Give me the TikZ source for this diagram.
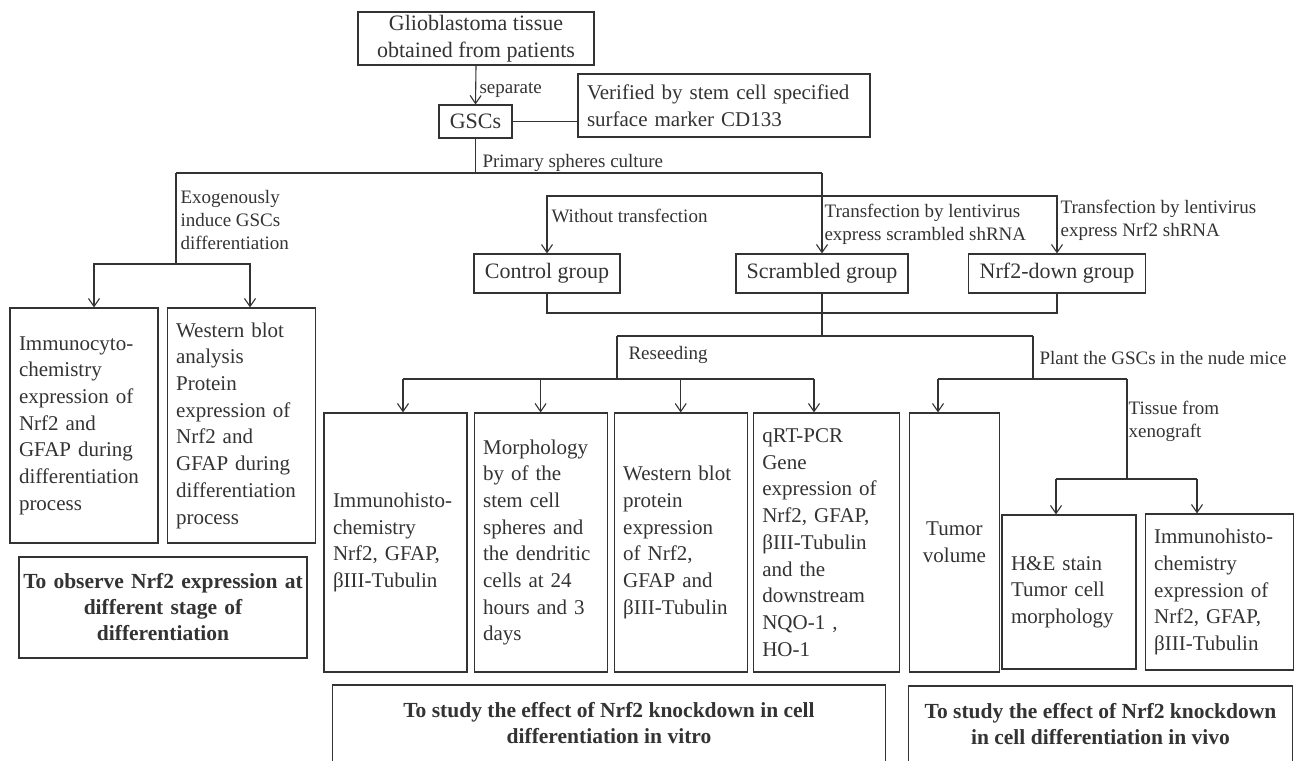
\documentclass[tikz,border=0pt]{standalone}
\usepackage{fontspec}
\setmainfont{Liberation Serif}
\usetikzlibrary{positioning}
\usetikzlibrary{arrows.meta}

\begin{document}
\begin{tikzpicture}[x=1pt,y=-1pt,line width=1.1pt,color=black!80,
	>={Straight Barb[length=8pt,width=11pt]},
	box/.style={draw,inner xsep=9pt,inner ysep=0pt,align=left,font=\fontsize{21}{26.7}\selectfont},
	grp/.style={draw,inner sep=0pt,align=center,font=\fontsize{22}{27}\selectfont},
	lab/.style={anchor=west,align=left,inner sep=1pt,font=\fontsize{19}{23}\selectfont},
	sum/.style={align=center,inner sep=0pt,font=\fontsize{21.5}{26}\selectfont\bfseries}]
		\useasboundingbox (0,0) rectangle (1300,760);
		\node (gbm) [grp,minimum width=236pt,minimum height=53pt] at (476,38.5) {Glioblastoma tissue\\obtained from patients};
		\node (gsc) [grp,minimum width=73pt,minimum height=33pt] at (475.5,121.5) {GSCs};
		\node (cd) [box,inner xsep=9pt,text width=274pt,minimum height=63pt] at (724,105.5) {Verified by stem cell specified\\surface marker CD133};
		\node (ctl) [grp,minimum width=146pt,minimum height=39pt] at (547,273.5) {Control group};
		\node (scr) [grp,minimum width=172pt,minimum height=39pt] at (822,273.5) {Scrambled group};
		\node (nrd) [grp,minimum width=177pt,minimum height=39pt] at (1057,273.5) {Nrf2-down group};
		\node (b1) [box,text width=130pt,minimum height=235pt] at (84,425.5) {Immunocyto-\\chemistry\\expression of\\Nrf2 and\\GFAP during\\differentiation\\process};
		\node (b2) [box,text width=130pt,minimum height=235pt,right=8pt of b1] {Western blot\\analysis\\Protein\\expression of\\Nrf2 and\\GFAP during\\differentiation\\process};
		\node (obs) [box,sum,text width=288pt,minimum height=101pt] at (163,607.5) {To observe Nrf2 expression at\\different stage of\\differentiation};
		\node (r1) [box,text width=125pt,minimum height=259pt] at (395.5,542.5) {Immunohisto-\\chemistry\\Nrf2, GFAP,\\βIII-Tubulin};
		\node (r2) [box,text width=115pt,minimum height=259pt,right=6pt of r1] {Morphology\\by of the\\stem cell\\spheres and\\the dendritic\\cells at 24\\hours and 3\\days};
		\node (r3) [box,text width=115pt,minimum height=259pt,right=6pt of r2] {Western blot\\protein\\expression\\of Nrf2,\\GFAP and\\βIII-Tubulin};
		\node (r4) [box,text width=128pt,minimum height=259pt,right=5pt of r3] {qRT-PCR\\Gene\\expression of\\Nrf2, GFAP,\\βIII-Tubulin\\and the\\downstream\\NQO-1 ,\\HO-1};
		\node (r5) [box,align=center,text width=72pt,minimum height=259pt,right=9pt of r4] {Tumor\\volume};
		\node (he) [box,text width=116pt,minimum height=154pt] at (1069,592) {H\&E stain\\Tumor cell\\morphology};
		\node (ih) [box,text width=130pt,minimum height=156pt,right=8pt of he] {Immunohisto-\\chemistry\\expression of\\Nrf2, GFAP,\\βIII-Tubulin};
		\node (vit) [sum,minimum width=552pt,minimum height=75pt,anchor=north] at (609,685) {To study the effect of Nrf2 knockdown in cell\\differentiation in vitro};
		\node (viv) [sum,minimum width=383pt,minimum height=74pt,anchor=north] at (1100.5,686) {To study the effect of Nrf2 knockdown\\in cell differentiation in vivo};
		\draw (vit.south west) |- (vit.north east) -- (vit.south east);
		\draw (viv.south west) |- (viv.north east) -- (viv.south east);
		\node (sep) [lab] at (478,90) {separate};
		\node (psc) [lab] at (481,163) {Primary spheres culture};
		\node (exo) [lab] at (179,220) {Exogenously\\induce GSCs\\differentiation};
		\node (wot) [lab] at (550,216) {Without transfection};
		\node (tsc) [lab] at (823,224.5) {Transfection by lentivirus\\express scrambled shRNA};
		\node (tnr) [lab] at (1059,220.5) {Transfection by lentivirus\\express Nrf2 shRNA};
		\node (res) [lab] at (627,355) {Reseeding};
		\node (pla) [lab] at (1038,358) {Plant the GSCs in the nude mice};
		\node (tis) [lab] at (1127,421) {Tissue from\\xenograft};
		\coordinate (c0) at (176,173);
		\coordinate (c2) at (822,173);
		\coordinate (c3) at (176,264);
		\coordinate (c4) at (94,264);
		\coordinate (c5) at (250,264);
		\coordinate (g) at (822,196);
		\coordinate (k) at (822,313);
		\coordinate (m1) at (617,336);
		\coordinate (m2) at (1033,336);
		\coordinate (n1) at (617,379);
		\coordinate (n2) at (1033,379);
		\coordinate (a1) at (403,379);
		\coordinate (a4) at (814,379);
		\coordinate (t1) at (938,379);
		\coordinate (t2) at (1127,379);
		\coordinate (t3) at (1127,479);
		\coordinate (h1) at (1056,479);
		\coordinate (h2) at (1197,479);
		\draw[->] (gbm.south) -- (gsc.north);
		\draw (gsc.east) -- (gsc.east -| cd.west);
		\draw (gsc.south) -- (gsc.south |- c0);
		\draw (c0) -- (c2);
		\draw[->] (c2) -- (scr.north);
		\draw (c0) -- (c3);
		\draw[->] (c3) -| (c4 |- b1.north);
		\draw[->] (c3) -| (c5 |- b2.north);
		\draw[->] (g) -| (ctl.north);
		\draw[->] (g) -| (nrd.north);
		\draw (ctl.south) |- (k) -| (nrd.south);
		\draw (scr.south) -- (scr.south |- m1);
		\draw (m1) -- (m2);
		\draw (m1) -- (n1);
		\draw (a1) -- (a4);
		\draw[->] (a1) -- (a1 |- r1.north);
		\draw[->] (r2.north |- a1) -- (r2.north);
		\draw[->] (r3.north |- a1) -- (r3.north);
		\draw[->] (a4) -- (a4 |- r4.north);
		\draw (m2) -- (n2);
		\draw (t1) -- (t2);
		\draw[->] (t1) -- (t1 |- r5.north);
		\draw (t2) -- (t3);
		\draw (h1) -- (h2);
		\draw[->] (h1) -- (h1 |- he.north);
		\draw[->] (h2) -- (h2 |- ih.north);
\end{tikzpicture}
\end{document}
